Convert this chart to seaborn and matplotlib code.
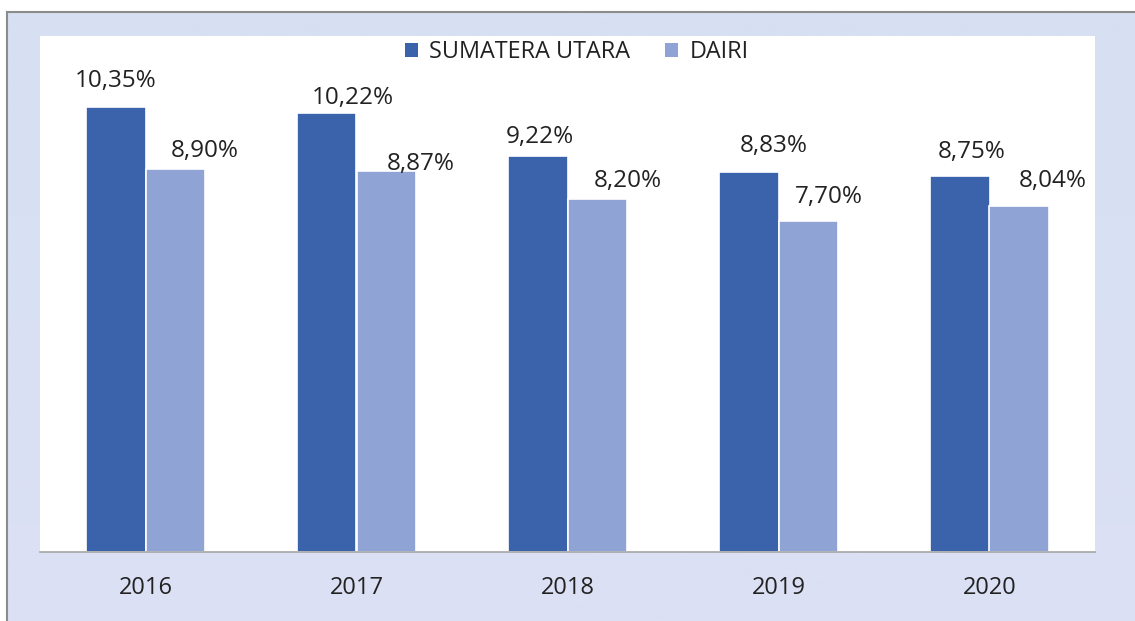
import matplotlib
matplotlib.use('Agg')
import matplotlib.pyplot as plt
import seaborn as sns
import numpy as np
import pandas as pd
from matplotlib.colors import LinearSegmentedColormap
from matplotlib.patches import Patch

# 데이터
years = ['2016', '2017', '2018', '2019', '2020']
series_names = ['SUMATERA UTARA', 'DAIRI']
sumut_values = [10.35, 10.22, 9.22, 8.83, 8.75]
dairi_values = [8.90, 8.87, 8.20, 7.70, 8.04]

# 라벨 위치 보정 (픽셀, 막대 중심 기준)
label_dx = [[0, 26, 2, 25, 12], [30, 35, 31, 21, 34]]
label_dy = [[26, 15, 19, 26, 24], [18, 7, 18, 24, 25]]

colors = ['#3B63AC', '#8FA4D5']

df = pd.DataFrame({
    'year': years * 2,
    'value': sumut_values + dairi_values,
    'series': [series_names[0]] * len(years) + [series_names[1]] * len(years),
})

sns.set_theme(style='white')
plt.rcParams['font.family'] = ['Open Sans', 'DejaVu Sans']

W, H = 1135, 621
fig = plt.figure(figsize=(W / 100, H / 100), dpi=100)
fig.patch.set_facecolor('white')

# 배경 그라데이션
bg = fig.add_axes([7 / W, -0.01, 1.02 - 7 / W, (H - 12) / H + 0.01])
cmap = LinearSegmentedColormap.from_list('bg', ['#D6E0F2', '#DCE0F5'])
bg.imshow(np.linspace(0, 1, 256).reshape(-1, 1), aspect='auto', cmap=cmap,
          extent=[0, 1, 0, 1])
bg.set_xlim(0, 1)
bg.set_ylim(0, 1)
bg.set_xticks([])
bg.set_yticks([])
for side in ['right', 'bottom']:
    bg.spines[side].set_visible(False)
for side in ['left', 'top']:
    bg.spines[side].set_color('#8C8C8C')
    bg.spines[side].set_linewidth(1.5)

# 메인 차트
ax = fig.add_axes([40 / W, (H - 552) / H, 1055 / W, 516 / H])
ax.set_facecolor('white')
sns.barplot(data=df, x='year', y='value', hue='series', palette=colors,
            saturation=1, width=0.56, edgecolor='white', linewidth=1.2,
            ax=ax, legend=False)

ax.set_xlim(-0.5, 4.5)
ax.set_ylim(0, 12)
ax.set_xlabel('')
ax.set_ylabel('')
ax.set_yticks([])
ax.tick_params(axis='x', length=0, pad=17, labelsize=17, labelcolor='#222222')
for side in ['left', 'right', 'top']:
    ax.spines[side].set_visible(False)
ax.spines['bottom'].set_color('#A6A6A6')
ax.spines['bottom'].set_linewidth(1.2)

# 값 레이블
for s, cont in enumerate(ax.containers):
    for i, bar in enumerate(cont):
        v = bar.get_height()
        txt = f'{v:.2f}'.replace('.', ',') + '%'
        ax.annotate(txt, (bar.get_x() + bar.get_width() / 2, v),
                    xytext=(label_dx[s][i], label_dy[s][i]),
                    textcoords='offset pixels', ha='center', va='center',
                    fontsize=17.5, color='#222222')

# 범례
handles = [Patch(facecolor=c, edgecolor='none') for c in colors]
fig.legend(handles, series_names, loc='center', ncol=2,
           bbox_to_anchor=(577 / W, (H - 52) / H), frameon=False,
           fontsize=16.8, handlelength=0.55, handleheight=0.55,
           handletextpad=0.5, columnspacing=1.5, labelcolor='#222222')

fig.savefig('out.png', dpi=100)
plt.close(fig)
